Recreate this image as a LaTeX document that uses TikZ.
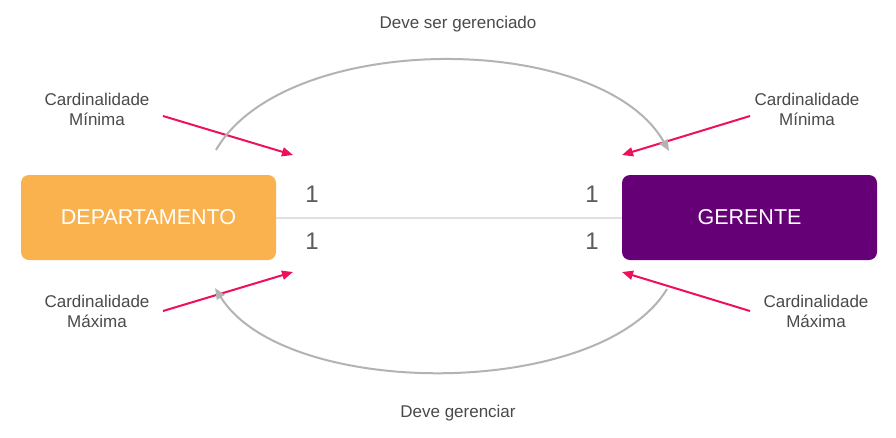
\documentclass[tikz,border=0pt]{standalone}
\usepackage{fontspec}
\setmainfont{Liberation Sans}
\usetikzlibrary{arrows.meta}
\definecolor{deporange}{HTML}{F9B24E}
\definecolor{gerpurple}{HTML}{660077}
\definecolor{pinkarrow}{HTML}{F0105A}
\definecolor{arcgray}{HTML}{B3B3B3}
\definecolor{linegray}{HTML}{E0E0E0}
\definecolor{txtgray}{HTML}{4A4A4A}
\begin{document}
\begin{tikzpicture}[x=1pt,y=-1pt,
  entity/.style={rounded corners=8pt, minimum width=255pt, minimum height=85pt, inner sep=0pt, text=white, font=\fontsize{21.5}{24}\selectfont},
  lbl/.style={text=txtgray, font=\fontsize{17}{20}\selectfont, align=center, inner sep=0pt},
  card/.style={text=txtgray!90, font=\fontsize{24}{26}\selectfont, inner sep=0pt},
  pinkarr/.style={draw=pinkarrow, line width=2pt, -{Triangle[length=11pt,width=9pt]}},
  arcarr/.style={draw=arcgray, line width=2pt, -{Triangle[length=11pt,width=9pt]}}
]
\useasboundingbox (0,0) rectangle (896,437);
\fill[white] (0,0) rectangle (896,437);

\node[entity, fill=deporange] (dep) at (148.5,217.5) {DEPARTAMENTO};
\node[entity, fill=gerpurple] (ger) at (749.5,217.5) {GERENTE};
\draw[linegray, line width=2pt] (dep.east) -- (ger.west);

\node[card] (c1) at (312,194) {1};
\node[card] (c2) at (312,241) {1};
\node[card] (c3) at (592,194) {1};
\node[card] (c4) at (592,241) {1};

\node[lbl] (top) at (458,24) {Deve ser gerenciado};
\node[lbl] (bot) at (458,413) {Deve gerenciar};

\node[lbl] (l1) at (97,109) {Cardinalidade\\Mínima};
\node[lbl] (l2) at (97,311) {Cardinalidade\\Máxima};
\node[lbl] (l3) at (807,109) {Cardinalidade\\Mínima};
\node[lbl] (l4) at (816,311) {Cardinalidade\\Máxima};

\coordinate (a1s) at (163,116); \coordinate (a1e) at (293,155);
\coordinate (a2s) at (163,311); \coordinate (a2e) at (293,272);
\coordinate (a3s) at (750,116); \coordinate (a3e) at (622,155);
\coordinate (a4s) at (750,311); \coordinate (a4e) at (622,272);
\draw[pinkarr] (a1s) -- (a1e);
\draw[pinkarr] (a2s) -- (a2e);
\draw[pinkarr] (a3s) -- (a3e);
\draw[pinkarr] (a4s) -- (a4e);

\coordinate (t1) at (216,150); \coordinate (t2) at (669,151);
\coordinate (b1) at (667,289); \coordinate (b2) at (215,288);
\draw[arcarr] (t1) .. controls (285,30) and (600,30) .. (t2);
\draw[arcarr] (b1) .. controls (600,400) and (285,400) .. (b2);
\end{tikzpicture}
\end{document}
